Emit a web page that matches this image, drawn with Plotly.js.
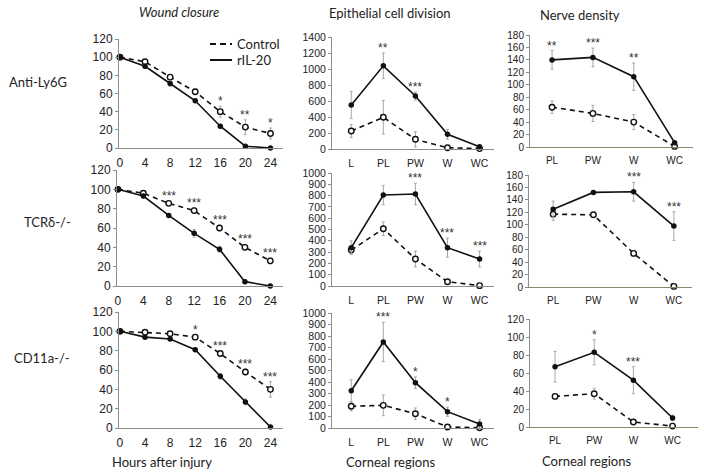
<!DOCTYPE html>
<html><head><meta charset="utf-8">
<script src="https://cdn.plot.ly/plotly-3.0.1.min.js"></script>
<style>html,body{margin:0;padding:0;background:#fff}#chart{width:704px;height:475px}</style>
</head><body><div id="chart"></div>
<script>
// ---------- categories / tick labels ----------
const hours = [0, 4, 8, 12, 16, 20, 24];
const regions5 = ['L', 'PL', 'PW', 'W', 'WC'];
const regions4 = ['PL', 'PW', 'W', 'WC'];
const seriesNames = ['Control', 'rIL-20'];
const rowLabels = ['Anti-Ly6G', 'TCRδ-/-', 'CD11a-/-'];
const colTitles = ['<i>Wound closure</i>', 'Epithelial cell division', 'Nerve density'];
const xTitles = ['Hours after injury', 'Corneal regions', 'Corneal regions'];

// ---------- Wound closure ----------
const ly6gWoundCtrl = [100, 95, 78, 62, 40, 23, 16];
const ly6gWoundCtrlErr = [1, 2, 2, 3, 6, 8, 6];
const ly6gWoundRil = [100, 90, 71, 52, 24, 2, 0];
const ly6gWoundRilErr = [1, 2, 3, 2, 2, 1, 1];
const ly6gWoundStars = ['', '', '', '', '*', '**', '*'];

const tcrWoundCtrl = [100, 96, 85.5, 78, 60, 40, 26];
const tcrWoundCtrlErr = [1, 2, 2, 3, 3, 3, 3];
const tcrWoundRil = [100, 93, 73, 54.5, 38, 4.5, 0];
const tcrWoundRilErr = [1, 2, 2, 4, 3, 2, 1];
const tcrWoundStars = ['', '', '***', '***', '***', '***', '***'];

const cd11aWoundCtrl = [100, 99, 97.5, 94, 77, 58, 40];
const cd11aWoundCtrlErr = [1, 1, 2, 2, 3, 3, 8];
const cd11aWoundRil = [100, 94, 92, 81, 53.5, 27, 1];
const cd11aWoundRilErr = [1, 2, 1, 2, 3, 3, 1];
const cd11aWoundStars = ['', '', '', '*', '***', '***', '***'];

// ---------- Epithelial cell division ----------
const ly6gEpiCtrl = [225, 396, 121, 16, 5];
const ly6gEpiCtrlErr = [80, 210, 95, 15, 10];
const ly6gEpiRil = [550, 1040, 662, 184, 29];
const ly6gEpiRilErr = [170, 160, 50, 60, 20];
const ly6gEpiStars = ['', '**', '***', '', ''];

const tcrEpiCtrl = [318, 507, 239, 38, 3];
const tcrEpiCtrlErr = [25, 60, 70, 10, 5];
const tcrEpiRil = [339, 805, 814, 339, 239];
const tcrEpiRilErr = [60, 85, 95, 85, 70];
const tcrEpiStars = ['', '', '***', '***', '***'];

const cd11aEpiCtrl = [189, 197, 124, 9, 2];
const cd11aEpiCtrlErr = [40, 90, 50, 10, 5];
const cd11aEpiRil = [324, 748, 394, 142, 35];
const cd11aEpiRilErr = [95, 170, 50, 40, 40];
const cd11aEpiStars = ['', '***', '*', '*', ''];

// ---------- Nerve density ----------
const ly6gNerveCtrl = [64, 54, 40, 1];
const ly6gNerveCtrlErr = [10, 13, 12, 2];
const ly6gNerveRil = [140, 144, 113, 7];
const ly6gNerveRilErr = [15, 15, 22, 2];
const ly6gNerveStars = ['**', '***', '**', ''];

const tcrNerveCtrl = [117, 116, 54, 1];
const tcrNerveCtrlErr = [10, 3, 3, 2];
const tcrNerveRil = [125, 152, 153, 98];
const tcrNerveRilErr = [13, 3, 15, 23];
const tcrNerveStars = ['', '', '***', '***'];

const cd11aNerveCtrl = [34, 37, 5.5, 1];
const cd11aNerveCtrlErr = [2, 6, 2, 1];
const cd11aNerveRil = [67, 83, 52, 10];
const cd11aNerveRilErr = [17, 14, 15, 3];
const cd11aNerveStars = ['', '*', '***', ''];

// ---------- panel geometry (pixels) ----------
const W = 704, H = 475;
const panels = [
  {x: hours, c: ly6gWoundCtrl, ce: ly6gWoundCtrlErr, r: ly6gWoundRil, re: ly6gWoundRilErr, s: ly6gWoundStars, px: [119, 283], py: [39, 148], yr: [0, 120], dt: 20, xr: [-0.15, 26], col: 0},
  {x: regions5, c: ly6gEpiCtrl, ce: ly6gEpiCtrlErr, r: ly6gEpiRil, re: ly6gEpiRilErr, s: ly6gEpiStars, px: [332, 494], py: [37, 149], yr: [0, 1400], dt: 200, xr: [-0.6, 4.45], col: 1},
  {x: regions4, c: ly6gNerveCtrl, ce: ly6gNerveCtrlErr, r: ly6gNerveRil, re: ly6gNerveRilErr, s: ly6gNerveStars, px: [530, 693], py: [35, 147], yr: [0, 180], dt: 20, xr: [-0.54, 3.45], col: 2},
  {x: hours, c: tcrWoundCtrl, ce: tcrWoundCtrlErr, r: tcrWoundRil, re: tcrWoundRilErr, s: tcrWoundStars, px: [117, 283], py: [170, 286], yr: [0, 120], dt: 20, xr: [-0.15, 26], col: 0},
  {x: regions5, c: tcrEpiCtrl, ce: tcrEpiCtrlErr, r: tcrEpiRil, re: tcrEpiRilErr, s: tcrEpiStars, px: [332, 494], py: [173, 286], yr: [0, 1000], dt: 100, xr: [-0.6, 4.45], col: 1},
  {x: regions4, c: tcrNerveCtrl, ce: tcrNerveCtrlErr, r: tcrNerveRil, re: tcrNerveRilErr, s: tcrNerveStars, px: [529, 692], py: [175, 287], yr: [0, 180], dt: 20, xr: [-0.6, 3.45], col: 2},
  {x: hours, c: cd11aWoundCtrl, ce: cd11aWoundCtrlErr, r: cd11aWoundRil, re: cd11aWoundRilErr, s: cd11aWoundStars, px: [119, 283], py: [312, 428], yr: [0, 120], dt: 20, xr: [-0.15, 26], col: 0},
  {x: regions5, c: cd11aEpiCtrl, ce: cd11aEpiCtrlErr, r: cd11aEpiRil, re: cd11aEpiRilErr, s: cd11aEpiStars, px: [332, 494], py: [313, 428], yr: [0, 1000], dt: 100, xr: [-0.6, 4.45], col: 1},
  {x: regions4, c: cd11aNerveCtrl, ce: cd11aNerveCtrlErr, r: cd11aNerveRil, re: cd11aNerveRilErr, s: cd11aNerveStars, px: [530, 698], py: [319, 427], yr: [0, 120], dt: 20, xr: [-0.64, 3.65], col: 2}
];

const traces = [];
const layout = {
  width: W, height: H, autosize: false,
  margin: {l: 0, r: 0, t: 0, b: 0},
  paper_bgcolor: '#fff', plot_bgcolor: 'rgba(0,0,0,0)',
  font: {family: 'Liberation Sans, Arial, sans-serif', color: '#222', size: 11},
  showlegend: false,
  annotations: [], shapes: []
};

panels.forEach((p, i) => {
  const n = i + 1;
  const xa = 'x' + (n === 1 ? '' : n), ya = 'y' + (n === 1 ? '' : n);
  const tickSize = p.col === 0 ? 12 : (p.col === 1 ? 10.5 : 10);
  const axColor = '#8c8c8c';
  layout['xaxis' + (n === 1 ? '' : n)] = {
    domain: [p.px[0] / W, p.px[1] / W], anchor: ya,
    type: p.col === 0 ? 'linear' : 'category',
    range: p.xr,
    tickvals: p.col === 0 ? hours : undefined,
    showgrid: false, zeroline: false, showline: true, linecolor: p.col === 2 ? '#8c8569' : axColor, linewidth: 1,
    ticks: '', tickfont: {size: tickSize, color: '#222'}, ticklabelstandoff: 4, fixedrange: true
  };
  layout['yaxis' + (n === 1 ? '' : n)] = {
    domain: [1 - p.py[1] / H, 1 - p.py[0] / H], anchor: xa,
    range: p.yr, dtick: p.dt, tick0: 0,
    showgrid: false, zeroline: false, showline: true, linecolor: axColor, linewidth: 1,
    ticks: 'outside', ticklen: 3, tickcolor: axColor, tickfont: {size: tickSize, color: '#222'}, fixedrange: true
  };
  traces.push({
    x: p.x, y: p.c, xaxis: xa, yaxis: ya, type: 'scatter', mode: 'lines+markers', name: seriesNames[0],
    line: {color: '#111', width: 1.6, dash: '5px,4px'},
    marker: {symbol: 'circle', size: 5.5, color: '#fff', line: {color: '#111', width: 1.4}},
    error_y: {type: 'data', array: p.ce, visible: true, color: '#a8a8a8', thickness: 1, width: 1.5},
    cliponaxis: false
  });
  traces.push({
    x: p.x, y: p.r, xaxis: xa, yaxis: ya, type: 'scatter', mode: 'lines+markers', name: seriesNames[1],
    line: {color: '#111', width: 1.6},
    marker: {symbol: 'circle', size: 5.5, color: '#111'},
    error_y: {type: 'data', array: p.re, visible: true, color: '#a8a8a8', thickness: 1, width: 1.5},
    cliponaxis: false
  });
  p.s.forEach((st, k) => {
    if (!st) return;
    const top = Math.max(p.c[k] + p.ce[k], p.r[k] + p.re[k]);
    layout.annotations.push({
      xref: xa, yref: ya, x: p.x[k], y: top, text: st, showarrow: false,
      yanchor: 'bottom', yshift: -4, font: {size: 12, color: '#333', family: 'Liberation Sans, Arial'}
    });
  });
});

// legend drawn as line samples + labels in the first panel's corner
const txtFont = {family: 'Lato, Open Sans, sans-serif', size: 13, color: '#222'};
const legendRows = [[44, 'dash'], [60, 'solid']];
legendRows.forEach((row, i) => {
  layout.shapes.push({type: 'line', xref: 'paper', yref: 'paper', x0: 210 / W, x1: 232 / W,
    y0: 1 - row[0] / H, y1: 1 - row[0] / H, line: {color: '#111', width: 2, dash: row[1] === 'dash' ? '6px,4px' : 'solid'}});
  layout.annotations.push({xref: 'paper', yref: 'paper', x: 235 / W, y: 1 - row[0] / H, text: seriesNames[i],
    showarrow: false, xanchor: 'left', yanchor: 'middle', font: txtFont});
});

// titles / row labels / x titles
const colTitlePos = [[179, 12], [390, 13], [580, 15]];
colTitles.forEach((t, i) => layout.annotations.push({xref: 'paper', yref: 'paper',
  x: colTitlePos[i][0] / W, y: 1 - colTitlePos[i][1] / H, text: t, showarrow: false,
  xanchor: 'center', yanchor: 'middle', font: txtFont}));
const rowPos = [[7, 82], [22, 222], [12, 358]];
rowLabels.forEach((t, i) => layout.annotations.push({xref: 'paper', yref: 'paper',
  x: rowPos[i][0] / W, y: 1 - rowPos[i][1] / H, text: t, showarrow: false,
  xanchor: 'left', yanchor: 'middle', font: txtFont}));
const xtPos = [[162, 462], [390, 462], [586, 461]];
xTitles.forEach((t, i) => layout.annotations.push({xref: 'paper', yref: 'paper',
  x: xtPos[i][0] / W, y: 1 - xtPos[i][1] / H, text: t, showarrow: false,
  xanchor: 'center', yanchor: 'middle', font: txtFont}));

Plotly.newPlot('chart', traces, layout, {staticPlot: true, displayModeBar: false});
</script>
</body></html>
